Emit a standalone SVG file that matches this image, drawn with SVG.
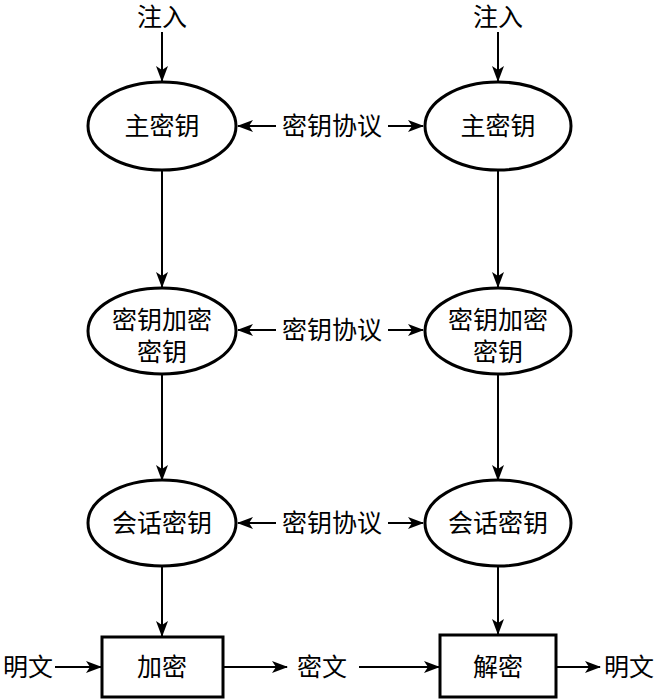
<svg xmlns="http://www.w3.org/2000/svg" width="658" height="700" viewBox="0 0 658 700">
<style>
.n{fill:#fff;stroke:#000;stroke-width:3}
.t{font-family:"Liberation Serif","Noto Sans CJK SC",serif;font-size:25px;fill:#000;text-anchor:middle;dominant-baseline:central}
.c{stroke:#000;stroke-width:2;fill:none;marker-end:url(#a)}
</style>
<defs>
<marker id="a" markerUnits="userSpaceOnUse" markerWidth="16" markerHeight="12" refX="15" refY="6" orient="auto">
<path d="M0,0 L16,6 L0,12 L4,6 z" fill="#000"/>
</marker>
</defs>
<g id="connectors">
<line class="c" x1="162" y1="32" x2="162" y2="81"/>
<line class="c" x1="498" y1="32" x2="498" y2="81"/>
<line class="c" x1="162" y1="171" x2="162" y2="287"/>
<line class="c" x1="498" y1="171" x2="498" y2="287"/>
<line class="c" x1="162" y1="375" x2="162" y2="480"/>
<line class="c" x1="498" y1="375" x2="498" y2="480"/>
<line class="c" x1="162" y1="567" x2="162" y2="636"/>
<line class="c" x1="498" y1="567" x2="498" y2="634"/>
<line class="c" x1="276" y1="126" x2="238" y2="126"/>
<line class="c" x1="388" y1="126" x2="423" y2="126"/>
<line class="c" x1="276" y1="330" x2="238" y2="330"/>
<line class="c" x1="388" y1="330" x2="423" y2="330"/>
<line class="c" x1="276" y1="523" x2="238" y2="523"/>
<line class="c" x1="388" y1="523" x2="423" y2="523"/>
<line class="c" x1="55" y1="667" x2="101" y2="667"/>
<line class="c" x1="224" y1="667" x2="287" y2="667"/>
<line class="c" x1="359" y1="667" x2="439" y2="667"/>
<line class="c" x1="557" y1="667" x2="600" y2="667"/>
</g>
<g id="inject-l"><text class="t" x="162" y="17">注入</text></g>
<g id="inject-r"><text class="t" x="498" y="17">注入</text></g>
<g id="master-l"><ellipse class="n" cx="162" cy="126" rx="74" ry="44"/><text class="t" x="162" y="126">主密钥</text></g>
<g id="master-r"><ellipse class="n" cx="498" cy="126" rx="73" ry="44"/><text class="t" x="498" y="126">主密钥</text></g>
<g id="proto1"><text class="t" x="332" y="126">密钥协议</text></g>
<g id="kek-l"><ellipse class="n" cx="162" cy="331" rx="74" ry="43"/><text class="t" x="162" y="320">密钥加密</text><text class="t" x="162" y="352">密钥</text></g>
<g id="kek-r"><ellipse class="n" cx="498" cy="331" rx="73" ry="43"/><text class="t" x="498" y="320">密钥加密</text><text class="t" x="498" y="352">密钥</text></g>
<g id="proto2"><text class="t" x="332" y="330">密钥协议</text></g>
<g id="sess-l"><ellipse class="n" cx="162" cy="523" rx="74" ry="43"/><text class="t" x="162" y="523">会话密钥</text></g>
<g id="sess-r"><ellipse class="n" cx="498" cy="523" rx="73" ry="43"/><text class="t" x="498" y="523">会话密钥</text></g>
<g id="proto3"><text class="t" x="332" y="523">密钥协议</text></g>
<g id="enc"><rect class="n" x="102" y="637" width="121" height="60"/><text class="t" x="162" y="667">加密</text></g>
<g id="dec"><rect class="n" x="440" y="635" width="116" height="62"/><text class="t" x="498" y="667">解密</text></g>
<g id="plain-l"><text class="t" x="28" y="667">明文</text></g>
<g id="cipher"><text class="t" x="322" y="667">密文</text></g>
<g id="plain-r"><text class="t" x="629" y="667">明文</text></g>
</svg>
